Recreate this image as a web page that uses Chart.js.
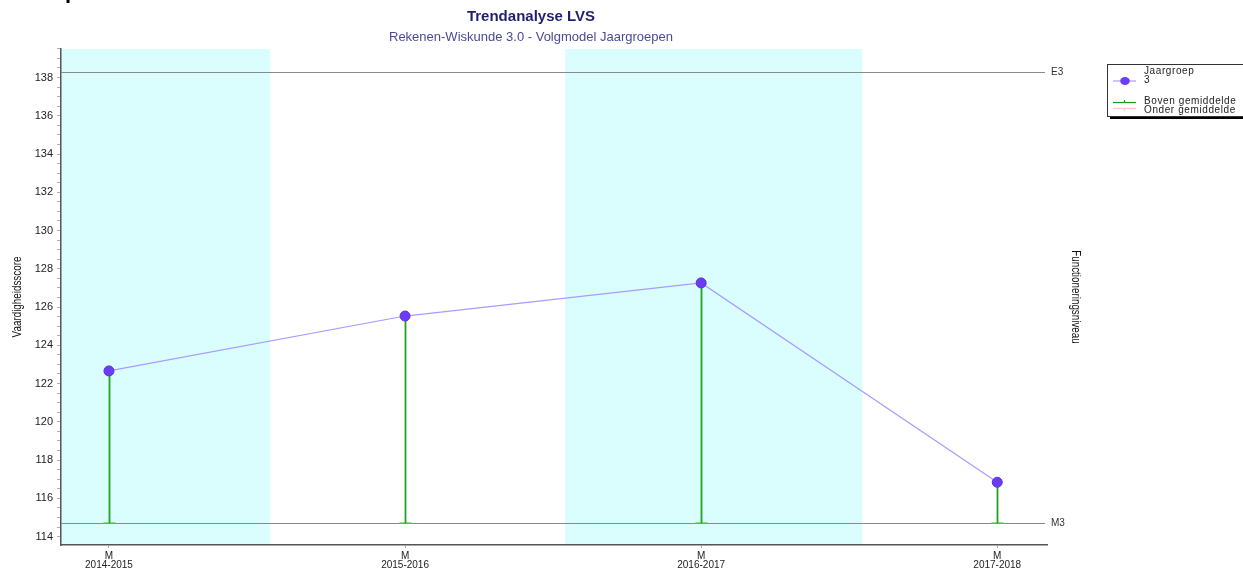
<!DOCTYPE html>
<html>
<head>
<meta charset="utf-8">
<script src="https://cdn.jsdelivr.net/npm/chart.js@4"></script>
<style>
  html, body { margin: 0; padding: 0; background: #fff; }
  canvas { display: block; }
</style>
</head>
<body>
<canvas id="trendChart" width="1243" height="569"></canvas>
<script>
const years = ['2014-2015', '2015-2016', '2016-2017', '2017-2018'];
const periods = ['M', 'M', 'M', 'M'];
const scores = [122.66, 125.53, 127.26, 116.84];
const yTickLabels = [114, 116, 118, 120, 122, 124, 126, 128, 130, 132, 134, 136, 138];
const yMinorStep = 0.5;
const bands = [[-0.162, 0.544], [1.541, 2.544]];
const refLines = [{ label: 'E3', value: 138.31 }, { label: 'M3', value: 114.70 }];
const stemBase = 114.70;

const FONT = '"Liberation Sans", Arial, sans-serif';

// minor + major tick positions on y
const yTicks = [];
for (let v = yTickLabels[0]; v <= 139.5; v += yMinorStep) yTicks.push(Math.round(v * 10) / 10);

// narrow-looking axis title: regular font squeezed horizontally
function axisTitle(ctx, text, x, y, angle) {
  ctx.save();
  ctx.translate(x, y);
  ctx.rotate(angle);
  ctx.scale(0.82, 1);
  ctx.fillText(text, 0, 0);
  ctx.restore();
}

const trendPlugin = {
  id: 'trend',
  beforeDraw(chart) {
    const { ctx, chartArea: a, scales: { x } } = chart;
    ctx.save();
    ctx.fillStyle = '#dafdfd';
    bands.forEach(([from, to]) => {
      const x1 = Math.max(a.left, x.getPixelForValue(from));
      const x2 = Math.min(a.right, x.getPixelForValue(to));
      ctx.fillRect(x1, a.top, x2 - x1, a.bottom - a.top);
    });
    ctx.restore();
  },
  beforeDatasetsDraw(chart) {
    const { ctx, chartArea: a, scales: { x, y } } = chart;
    ctx.save();
    // reference lines
    ctx.strokeStyle = '#8a8a8a';
    ctx.lineWidth = 1;
    ctx.font = `10px ${FONT}`;
    ctx.fillStyle = '#333';
    ctx.textBaseline = 'middle';
    refLines.forEach(r => {
      const py = Math.round(y.getPixelForValue(r.value)) + 0.5;
      ctx.beginPath();
      ctx.moveTo(a.left, py);
      ctx.lineTo(a.right - 2, py);
      ctx.stroke();
      ctx.fillText(r.label, a.right + 4, py);
    });
    // stems
    const by = y.getPixelForValue(stemBase);
    scores.forEach((v, i) => {
      const px = Math.round(x.getPixelForValue(i)) + 0.5;
      ctx.strokeStyle = '#4cc04c';
      ctx.lineWidth = 1.5;
      ctx.beginPath();
      ctx.moveTo(px - 6, by);
      ctx.lineTo(px + 6, by);
      ctx.stroke();
      ctx.strokeStyle = '#1fa31f';
      ctx.lineWidth = 1.8;
      ctx.beginPath();
      ctx.moveTo(px, by);
      ctx.lineTo(px, y.getPixelForValue(v));
      ctx.stroke();
    });
    ctx.restore();
  },
  afterDraw(chart) {
    const { ctx, chartArea: a } = chart;
    const midY = (a.top + a.bottom) / 2;
    ctx.save();
    // cropped heading above the chart
    ctx.fillStyle = '#000';
    ctx.font = `bold 22px ${FONT}`;
    ctx.textBaseline = 'alphabetic';
    ctx.fillText('p', 65, -2);

    // titles
    ctx.textAlign = 'center';
    ctx.textBaseline = 'middle';
    ctx.fillStyle = '#1f1f6b';
    ctx.font = `bold 15px ${FONT}`;
    ctx.fillText('Trendanalyse LVS', 531, 17);
    ctx.fillStyle = '#4a4a98';
    ctx.font = `13px ${FONT}`;
    ctx.fillText('Rekenen-Wiskunde 3.0 - Volgmodel Jaargroepen', 531, 37);

    // axis titles
    ctx.fillStyle = '#111';
    ctx.font = `12px ${FONT}`;
    axisTitle(ctx, 'Vaardigheidsscore', 18, midY, -Math.PI / 2);
    axisTitle(ctx, 'Functioneringsniveau', 1075, midY, Math.PI / 2);

    // legend
    const lx = 1107, ly = 64, lw = 150, lh = 52;
    ctx.fillStyle = '#000';
    ctx.fillRect(lx + 3, ly + 3, lw, lh);
    ctx.fillStyle = '#fff';
    ctx.fillRect(lx, ly, lw, lh);
    ctx.strokeStyle = '#333';
    ctx.lineWidth = 1;
    ctx.strokeRect(lx + 0.5, ly + 0.5, lw, lh);

    ctx.lineWidth = 1.2;
    ctx.strokeStyle = '#a99bff';
    ctx.beginPath(); ctx.moveTo(lx + 6, 81); ctx.lineTo(lx + 29, 81); ctx.stroke();
    ctx.fillStyle = '#6b3cf2';
    ctx.beginPath(); ctx.ellipse(lx + 18, 81, 4.8, 4, 0, 0, Math.PI * 2); ctx.fill();

    ctx.strokeStyle = '#1a9a1a';
    ctx.beginPath(); ctx.moveTo(lx + 6, 102.5); ctx.lineTo(lx + 29, 102.5); ctx.stroke();
    ctx.beginPath(); ctx.moveTo(lx + 17.5, 100); ctx.lineTo(lx + 17.5, 102.5); ctx.stroke();
    ctx.strokeStyle = '#ffc8c8';
    ctx.beginPath(); ctx.moveTo(lx + 6, 108.5); ctx.lineTo(lx + 29, 108.5); ctx.stroke();
    ctx.beginPath(); ctx.moveTo(lx + 17.5, 108.5); ctx.lineTo(lx + 17.5, 111); ctx.stroke();

    ctx.fillStyle = '#222';
    ctx.font = `10px ${FONT}`;
    ctx.textAlign = 'left';
    ctx.letterSpacing = '0.6px';
    ctx.fillText('Jaargroep', lx + 37, 71);
    ctx.fillText('3', lx + 37, 80);
    ctx.fillText('Boven gemiddelde', lx + 37, 101);
    ctx.fillText('Onder gemiddelde', lx + 37, 110);
    ctx.restore();
  }
};

new Chart(document.getElementById('trendChart'), {
  type: 'line',
  data: {
    datasets: [{
      label: 'Jaargroep 3',
      data: scores.map((v, i) => ({ x: i, y: v })),
      borderColor: '#a99bff',
      borderWidth: 1.2,
      tension: 0,
      pointRadius: 5,
      pointBackgroundColor: '#6b3cf2',
      pointBorderColor: '#5a2ee0',
      pointBorderWidth: 1,
    }],
  },
  options: {
    responsive: false,
    animation: false,
    layout: { padding: { left: 0, right: 196, top: 49, bottom: 0 } },
    plugins: { legend: { display: false }, tooltip: { enabled: false } },
    scales: {
      x: {
        type: 'linear',
        min: -0.162,
        max: 3.168,
        afterBuildTicks: s => { s.ticks = years.map((_, i) => ({ value: i })); },
        afterFit: s => { s.height = 24; },
        grid: { drawOnChartArea: false, tickLength: 3, color: '#aaa' },
        border: { color: '#555', width: 1.5 },
        ticks: {
          padding: 3,
          autoSkip: false,
          maxRotation: 0,
          color: '#222',
          font: { size: 10, family: FONT, lineHeight: 0.95 },
          callback: v => [periods[v], years[v]],
        },
      },
      y: {
        min: 113.56,
        max: 139.49,
        afterBuildTicks: s => { s.ticks = yTicks.map(v => ({ value: v })); },
        afterFit: s => { s.width = 61; },
        grid: { drawOnChartArea: false, tickLength: 4, color: '#b0b0b0' },
        border: { color: '#555', width: 1.5 },
        ticks: {
          padding: 4,
          autoSkip: false,
          color: '#222',
          font: { size: 11, family: FONT },
          callback: v => yTickLabels.includes(v) ? v : '',
        },
      },
    },
  },
  plugins: [trendPlugin],
});
</script>
</body>
</html>
